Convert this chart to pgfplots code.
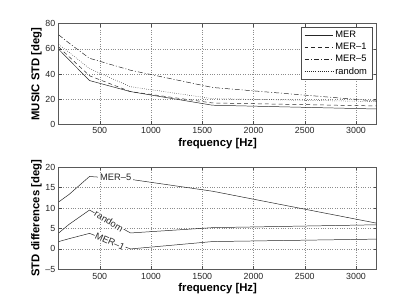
\documentclass[border=0pt]{standalone}
\usepackage{pgfplots}
\pgfplotsset{compat=1.18}
\usepackage{fontspec}
\setmainfont{Liberation Sans}
\begin{document}
\pgfplotstableread{
f     mer   mer1  rnd   mer5
100   59.6  61.4  63.5  71.1
200   51.3  53.8  57.3  64.6
400   34.8  38.6  44.3  52.5
800   26.0  26.0  29.9  43.0
1600  15.2  17.0  20.4  29.3
3200  12.2  14.6  18.1  18.5
}\topdata
\pgfplotstableread{
f     d5    drnd  d1
100   11.5  3.9   1.8
200   13.3  6.0   2.5
400   17.7  9.5   3.8
800   17.0  3.9   0.0
1600  14.1  5.2   1.8
3200  6.3   5.9   2.4
}\diffdata
\tikzset{lbl/.style={fill=white, inner sep=0.8pt, text=black!85, font=\fontsize{9.5}{11}\selectfont}}
\pgfplotsset{
  mystyle/.style={
    scale only axis,
    width=322bp,
    xmin=100, xmax=3200,
    xtick={500,1000,1500,2000,2500,3000},
    tick align=inside,
    xtick pos=both, ytick pos=both,
    major tick length=3bp,
    tick style={black!70, line width=0.4pt},
    axis line style={black!65, line width=0.6pt},
    grid=major,
    major grid style={black!45, dotted, line width=0.4pt},
    /pgf/number format/assume math mode=true,
    /pgf/number format/1000 sep={},
    ticklabel style={font=\fontsize{9}{10}\selectfont, text=black!85},
    label style={font=\fontsize{11.5}{13}\selectfont\bfseries},
    xlabel={frequency [Hz]},
    xlabel style={yshift=3bp},
    ylabel style={yshift=-3bp},
    every axis plot/.append style={black!85, line width=0.5pt},
  },
}
\begin{tikzpicture}
\useasboundingbox (0,0) rectangle (415bp,309bp);
\begin{axis}[mystyle,
  at={(54bp,183bp)}, anchor=south west,
  height=102bp,
  ymin=0, ymax=80, ytick={0,20,40,60,80},
  ylabel={MUSIC STD [deg]},
  legend style={at={(0.988,0.97)}, anchor=north east,
    draw=black!70, line width=0.6pt, font=\fontsize{9.5}{11}\selectfont,
    row sep=0.3pt, inner xsep=3.5pt, inner ysep=2pt},
  legend cell align=left,
  legend image code/.code={\draw[#1] (0bp,0bp) -- (29bp,0bp);},
]
\addplot[solid] table[x=f,y=mer]{\topdata};
\addlegendentry{MER}
\addplot[dash pattern=on 4bp off 3bp] table[x=f,y=mer1]{\topdata};
\addlegendentry{MER–1}
\addplot[dash pattern=on 5bp off 2bp on 1bp off 2bp] table[x=f,y=mer5]{\topdata};
\addlegendentry{MER–5}
\addplot[dash pattern=on 0.6bp off 1.6bp] table[x=f,y=rnd]{\topdata};
\addlegendentry{random}
\end{axis}
\begin{axis}[mystyle,
  at={(54bp,36bp)}, anchor=south west,
  height=103.7bp,
  ymin=-5, ymax=20, ytick={-5,0,5,10,15,20},
  yticklabels={–5,0,5,10,15,20},
  ylabel={STD differences [deg]},
]
\addplot[solid] table[x=f,y=d5]{\diffdata};
\addplot[solid] table[x=f,y=drnd]{\diffdata};
\addplot[solid] table[x=f,y=d1]{\diffdata};
\node[lbl, inner xsep=2pt, inner ysep=1.2pt] at (axis cs:655,17.4) {MER–5};
\node[lbl, rotate=-31] at (axis cs:590,6.8) {random};
\node[lbl, rotate=-24] at (axis cs:600,1.8) {MER–1};
\end{axis}
\end{tikzpicture}
\end{document}
